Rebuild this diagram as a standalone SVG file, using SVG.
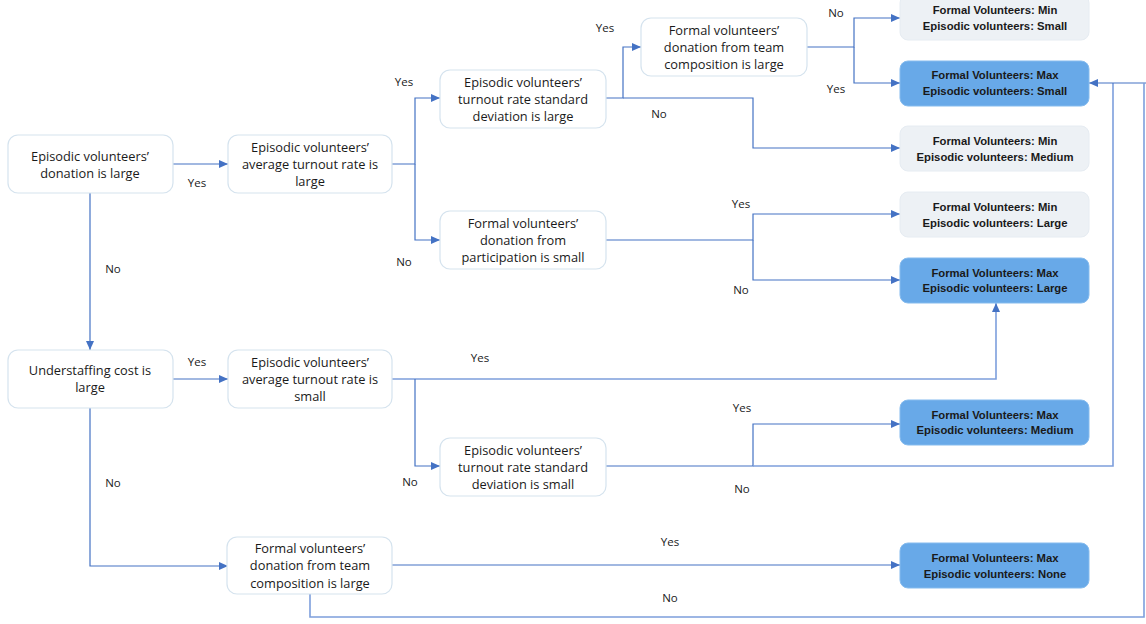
<svg xmlns="http://www.w3.org/2000/svg" width="1146" height="624" viewBox="0 0 1146 624">
<style>
.q rect{fill:#ffffff;stroke:#d5e3ee;stroke-width:1.2}
.q text{font-family:"Open Sans","Liberation Sans",Arial,sans-serif;font-size:12.8px;fill:#1a1a1a;text-anchor:middle}
.lo rect{fill:#edf1f5;stroke:#e6ecf2;stroke-width:1}
.hi rect{fill:#68a9e8;stroke:#85bbee;stroke-width:1}
.o text{font-family:"Liberation Sans",Arial,sans-serif;font-size:11.3px;font-weight:bold;fill:#1a1a1a;text-anchor:middle}
.c path{fill:none;stroke:#4472c4;stroke-width:1.2}
.c path.l{stroke:#7d9fdc;stroke-width:1.6}
.lb text{font-family:"Open Sans","Liberation Sans",Arial,sans-serif;font-size:11.5px;fill:#1a1a1a;text-anchor:middle}
</style>
<defs>
<marker id="ah" markerUnits="userSpaceOnUse" markerWidth="9" markerHeight="8" refX="9" refY="4" orient="auto">
<path d="M0,0 L9,4 L0,8 z" fill="#4472c4"/>
</marker>
</defs>
<rect width="1146" height="624" fill="#ffffff"/>
<g id="connectors" class="c">
<path d="M173,164 H228" marker-end="url(#ah)"/>
<path d="M90,193 V350" marker-end="url(#ah)"/>
<path d="M392,164 H415 V98 H440" marker-end="url(#ah)"/>
<path d="M415,164 V240 H440" marker-end="url(#ah)"/>
<path d="M606,98 H623 V47 H641" marker-end="url(#ah)"/>
<path d="M623,98 H753 V148 H900" marker-end="url(#ah)"/>
<path d="M807,47 H854 V18 H900" marker-end="url(#ah)"/>
<path d="M854,47 V83 H900" marker-end="url(#ah)"/>
<path d="M606,240 H753 V214 H900" marker-end="url(#ah)"/>
<path d="M753,240 V280 H900" marker-end="url(#ah)"/>
<path d="M173,379 H228" marker-end="url(#ah)"/>
<path d="M90,408 V566 H228" marker-end="url(#ah)"/>
<path class="l" d="M392,379 H996 V303" marker-end="url(#ah)"/>
<path d="M415,379 V466 H440" marker-end="url(#ah)"/>
<path d="M606,466 H753 V424 H900" marker-end="url(#ah)"/>
<path class="l" d="M753,466 H1113 V83"/>
<path d="M1146,83 H1089" marker-end="url(#ah)"/>
<path d="M392,565 H900" marker-end="url(#ah)"/>
<path class="l" d="M310,594 V617 H1144 V83"/>
</g>
<g id="labels" class="lb">
<text x="197" y="187">Yes</text>
<text x="113" y="273">No</text>
<text x="404" y="86">Yes</text>
<text x="404" y="266">No</text>
<text x="605" y="32">Yes</text>
<text x="659" y="118">No</text>
<text x="836" y="17">No</text>
<text x="836" y="93">Yes</text>
<text x="741" y="208">Yes</text>
<text x="741" y="294">No</text>
<text x="197" y="366">Yes</text>
<text x="113" y="487">No</text>
<text x="480" y="362">Yes</text>
<text x="410" y="486">No</text>
<text x="742" y="412">Yes</text>
<text x="742" y="493">No</text>
<text x="670" y="546">Yes</text>
<text x="670" y="602">No</text>
</g>
<g id="n_donation" class="q">
<rect x="8" y="135" width="165" height="58" rx="10"/>
<text x="90" y="160.5">Episodic volunteers’</text>
<text x="90" y="177.5">donation is large</text>
</g>
<g id="n_avg_large" class="q">
<rect x="228" y="135" width="164" height="58" rx="10"/>
<text x="310" y="151.5">Episodic volunteers’</text>
<text x="310" y="168.5">average turnout rate is</text>
<text x="310" y="186">large</text>
</g>
<g id="n_sd_large" class="q">
<rect x="440" y="70" width="166" height="58" rx="10"/>
<text x="523" y="86.5">Episodic volunteers’</text>
<text x="523" y="103.5">turnout rate standard</text>
<text x="523" y="121">deviation is large</text>
</g>
<g id="n_team_top" class="q">
<rect x="641" y="18" width="166" height="58" rx="10"/>
<text x="724" y="34.5">Formal volunteers’</text>
<text x="724" y="51.5">donation from team</text>
<text x="724" y="69">composition is large</text>
</g>
<g id="n_participation" class="q">
<rect x="440" y="211" width="166" height="58" rx="10"/>
<text x="523" y="227.5">Formal volunteers’</text>
<text x="523" y="244.5">donation from</text>
<text x="523" y="262">participation is small</text>
</g>
<g id="n_understaffing" class="q">
<rect x="8" y="350" width="165" height="58" rx="10"/>
<text x="90" y="375">Understaffing cost is</text>
<text x="90" y="392">large</text>
</g>
<g id="n_avg_small" class="q">
<rect x="228" y="350" width="164" height="58" rx="10"/>
<text x="310" y="366.5">Episodic volunteers’</text>
<text x="310" y="383.5">average turnout rate is</text>
<text x="310" y="401">small</text>
</g>
<g id="n_sd_small" class="q">
<rect x="440" y="438" width="166" height="58" rx="10"/>
<text x="523" y="454.5">Episodic volunteers’</text>
<text x="523" y="471.5">turnout rate standard</text>
<text x="523" y="489">deviation is small</text>
</g>
<g id="n_team_bottom" class="q">
<rect x="227" y="537" width="165" height="57" rx="10"/>
<text x="310" y="553">Formal volunteers’</text>
<text x="310" y="570">donation from team</text>
<text x="310" y="587.5">composition is large</text>
</g>
<g id="o_min_small" class="o lo">
<rect x="900" y="-5" width="189" height="45" rx="8"/>
<text x="995" y="14">Formal Volunteers: Min</text>
<text x="995" y="29.5">Episodic volunteers: Small</text>
</g>
<g id="o_max_small" class="o hi">
<rect x="900" y="61" width="189" height="45" rx="8"/>
<text x="995" y="79">Formal Volunteers: Max</text>
<text x="995" y="95">Episodic volunteers: Small</text>
</g>
<g id="o_min_medium" class="o lo">
<rect x="900" y="126" width="189" height="45" rx="8"/>
<text x="995" y="145">Formal Volunteers: Min</text>
<text x="995" y="160.5">Episodic volunteers: Medium</text>
</g>
<g id="o_min_large" class="o lo">
<rect x="900" y="192" width="189" height="45" rx="8"/>
<text x="995" y="211">Formal Volunteers: Min</text>
<text x="995" y="226.5">Episodic volunteers: Large</text>
</g>
<g id="o_max_large" class="o hi">
<rect x="900" y="258" width="189" height="45" rx="8"/>
<text x="995" y="276.5">Formal Volunteers: Max</text>
<text x="995" y="292">Episodic volunteers: Large</text>
</g>
<g id="o_max_medium" class="o hi">
<rect x="900" y="400" width="189" height="45" rx="8"/>
<text x="995" y="418.5">Formal Volunteers: Max</text>
<text x="995" y="434">Episodic volunteers: Medium</text>
</g>
<g id="o_max_none" class="o hi">
<rect x="900" y="543" width="189" height="45" rx="8"/>
<text x="995" y="562">Formal Volunteers: Max</text>
<text x="995" y="577.5">Episodic volunteers: None</text>
</g>
</svg>
